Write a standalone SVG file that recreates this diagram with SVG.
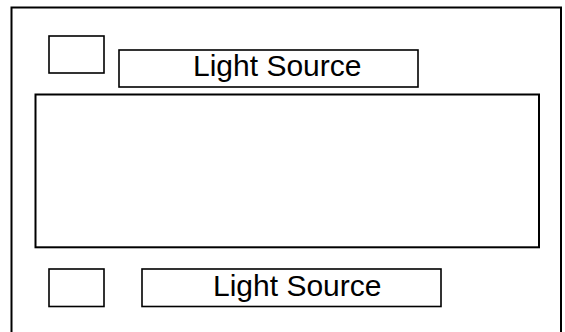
<svg xmlns="http://www.w3.org/2000/svg" width="565" height="332" viewBox="0 0 565 332">
<style>
.box{fill:#fff;stroke:#000;stroke-width:1.6}
.frame{fill:#fff;stroke:#000;stroke-width:2}
.lbl{font-family:"Liberation Sans",Arial,sans-serif;font-size:30px;fill:#000}
</style>
<rect x="0" y="0" width="565" height="332" fill="#fff"/>
<g id="outer"><rect class="frame" x="11.5" y="7.5" width="549.5" height="340"/></g>
<g id="small-top"><rect class="box" x="49" y="36" width="55" height="37"/></g>
<g id="light-source-top"><rect class="box" x="119" y="50" width="299" height="37"/><text class="lbl" x="193" y="75.7">Light Source</text></g>
<g id="main"><rect class="frame" x="35.5" y="94.5" width="503.5" height="152.8"/></g>
<g id="small-bottom"><rect class="box" x="49" y="269" width="55" height="37.5"/></g>
<g id="light-source-bottom"><rect class="box" x="142" y="269" width="299" height="37.5"/><text class="lbl" x="213" y="295.7">Light Source</text></g>
<g id="connectors"></g>
</svg>
